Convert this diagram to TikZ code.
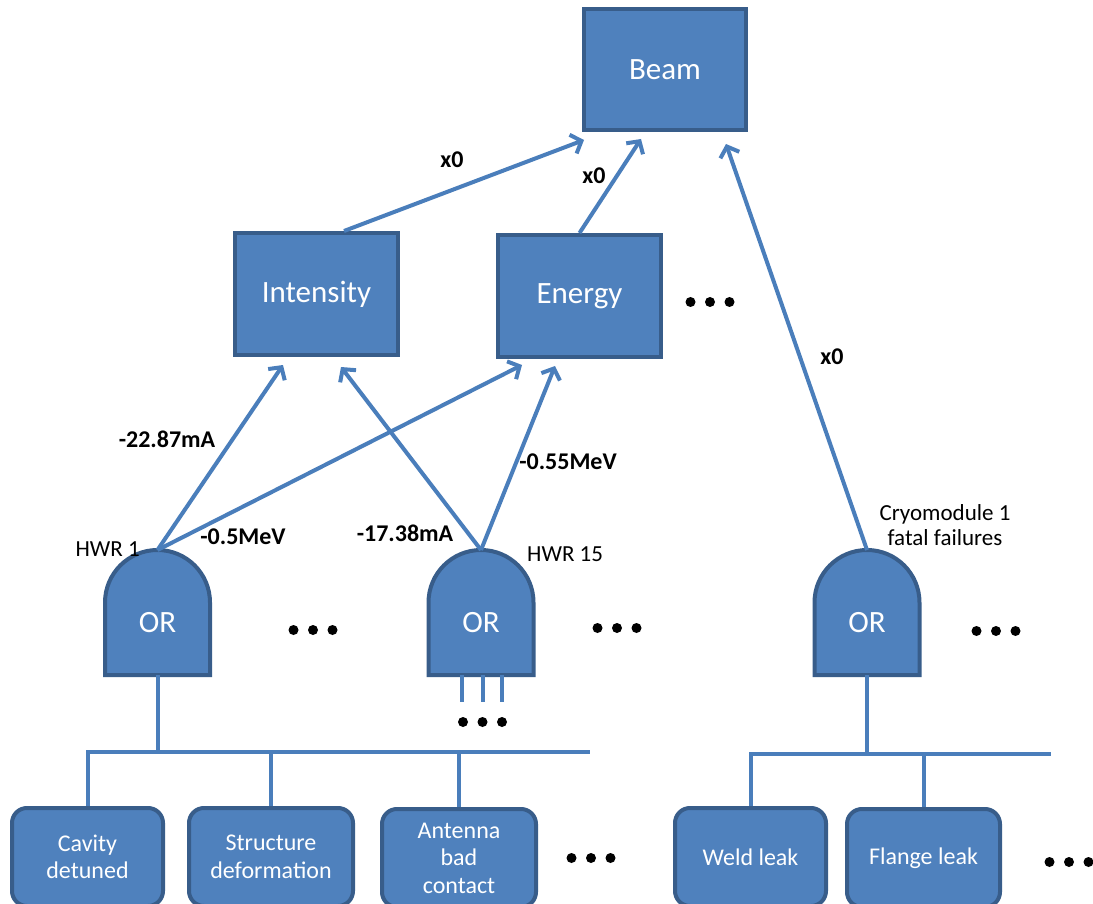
\documentclass[tikz,border=0pt]{standalone}
\usepackage{fontspec}
\setmainfont{Carlito}
\usetikzlibrary{arrows.meta,calc}
\definecolor{boxfill}{HTML}{4F81BD}
\definecolor{boxline}{HTML}{385D8A}
\definecolor{connc}{HTML}{4A7EBB}
\tikzset{
  orgate/.pic={
    \path[draw=boxline, fill=boxfill, line width=4pt]
      (-52.5,72.5) -- (-52.5,0) arc[start angle=180,end angle=360,radius=52.5]
      -- (52.5,72.5) -- cycle;
    \coordinate (-top) at (0,-52.5);
    \coordinate (-bot) at (0,72.5);
    \node[text=white, font=\fontsize{31}{36}\selectfont, inner sep=0pt] (-c) at (0,20) {OR};
  },
  dotsthree/.pic={
    \fill (-19.5,0) circle[radius=5];
    \fill (0,0) circle[radius=5];
    \fill (19.5,0) circle[radius=5];
  }
}
\begin{document}
\begin{tikzpicture}[x=1pt,y=-1pt,
  bigbox/.style={draw=boxline, fill=boxfill, line width=4pt, text=white,
    font=\fontsize{31}{36}\selectfont, minimum width=163pt, minimum height=122pt, inner sep=0pt},
  leaf/.style={draw=boxline, fill=boxfill, line width=4pt, rounded corners=15pt, text=white,
    font=\fontsize{24}{27.5}\selectfont, align=center, minimum height=98pt, inner sep=0pt},
  conn/.style={draw=connc, line width=4pt},
  arr/.style={conn, -{Straight Barb[length=9pt,width=20pt]}},
  lab/.style={font=\bfseries\fontsize{24}{28}\selectfont, inner sep=0pt},
  tag/.style={font=\fontsize{23}{25}\selectfont, inner sep=0pt, align=center}
]
\useasboundingbox (0,0) rectangle (1093,904);
\clip (0,0) rectangle (1093,904);

% top boxes
\node[bigbox, minimum width=162pt, minimum height=121pt] (beam) at (665,69.5) {Beam};
\node[bigbox] (int) at (316.5,294) {Intensity};
\node[bigbox] (en) at (579.5,296) {Energy};

% gates
\pic (g1) at (157.5,602.5) {orgate};
\pic (g15) at (481,602.5) {orgate};
\pic (gc) at (867,602.5) {orgate};

% leaves
\node[leaf, minimum width=151pt] (cav) at (87.5,857) {Cavity\\detuned};
\node[leaf, minimum width=164pt] (str) at (271,857) {Structure\\deformation};
\node[leaf, minimum width=154pt] (ant) at (459,858) {Antenna\\bad\\contact};
\node[leaf, minimum width=151pt] (weld) at (750.5,857) {Weld leak};
\node[leaf, minimum width=153pt] (fl) at (923.5,858) {Flange leak};

% bus coordinates
\coordinate (busL) at (590,752);
\coordinate (busR) at (1051,754);

% arrows to Beam
\draw[arr] ($(int.north)+(27.5,0)$) -- ($(beam.south west)+(2,8)$);
\draw[arr] (en.north) -- ($(beam.south)+(-24,7)$);
\draw[arr] (gc-top) -- ($(beam.south)+(61,12)$);

% arrows from gates
\draw[arr] (g1-top) -- ($(int.south)+(-33.5,8)$);
\draw[arr] (g15-top) -- ($(int.south)+(24.5,10)$);
\draw[arr] (g1-top) -- ($(en.south)+(-57.5,6)$);
\draw[arr] (g15-top) -- ($(en.south)+(-24.5,7)$);

% fault tree buses
\draw[conn] (g1-bot) -- (g1-bot |- busL);
\draw[conn] (cav.north) |- (busL);
\draw[conn] (str.north) -- (str.north |- busL);
\draw[conn] (ant.north) -- (ant.north |- busL);

\draw[conn] (gc-bot) -- (gc-bot |- busR);
\draw[conn] (weld.north) |- (busR);
\draw[conn] (fl.north) -- (fl.north |- busR);

% HWR15 input stubs
\draw[conn] ($(g15-bot)+(-19,0)$) -- ++(0,27);
\draw[conn] ($(g15-bot)+(2,0)$) -- ++(0,27);
\draw[conn] ($(g15-bot)+(21,0)$) -- ++(0,27);

% labels
\node[lab] (l1) at (452,160) {x0};
\node[lab] (l2) at (594,176) {x0};
\node[lab] (l3) at (832,357) {x0};
\node[lab] (l4) at (167,439) {-22.87mA};
\node[lab] (l5) at (243,537) {-0.5MeV};
\node[lab] (l6) at (405,533) {-17.38mA};
\node[lab] (l7) at (568,462) {-0.55MeV};

\node[tag, anchor=east] (t1) at (140,549) {HWR 1};
\node[tag, anchor=west] (t2) at (527,554) {HWR 15};
\node[tag] (t3) at (945,525) {Cryomodule 1\\fatal failures};

% ellipsis dots
\pic at (710,302) {dotsthree};
\pic at (313,630) {dotsthree};
\pic at (617,628) {dotsthree};
\pic at (996,631) {dotsthree};
\pic at (482.5,722) {dotsthree};
\pic at (591,858) {dotsthree};
\pic at (1069,862) {dotsthree};
\end{tikzpicture}
\end{document}
